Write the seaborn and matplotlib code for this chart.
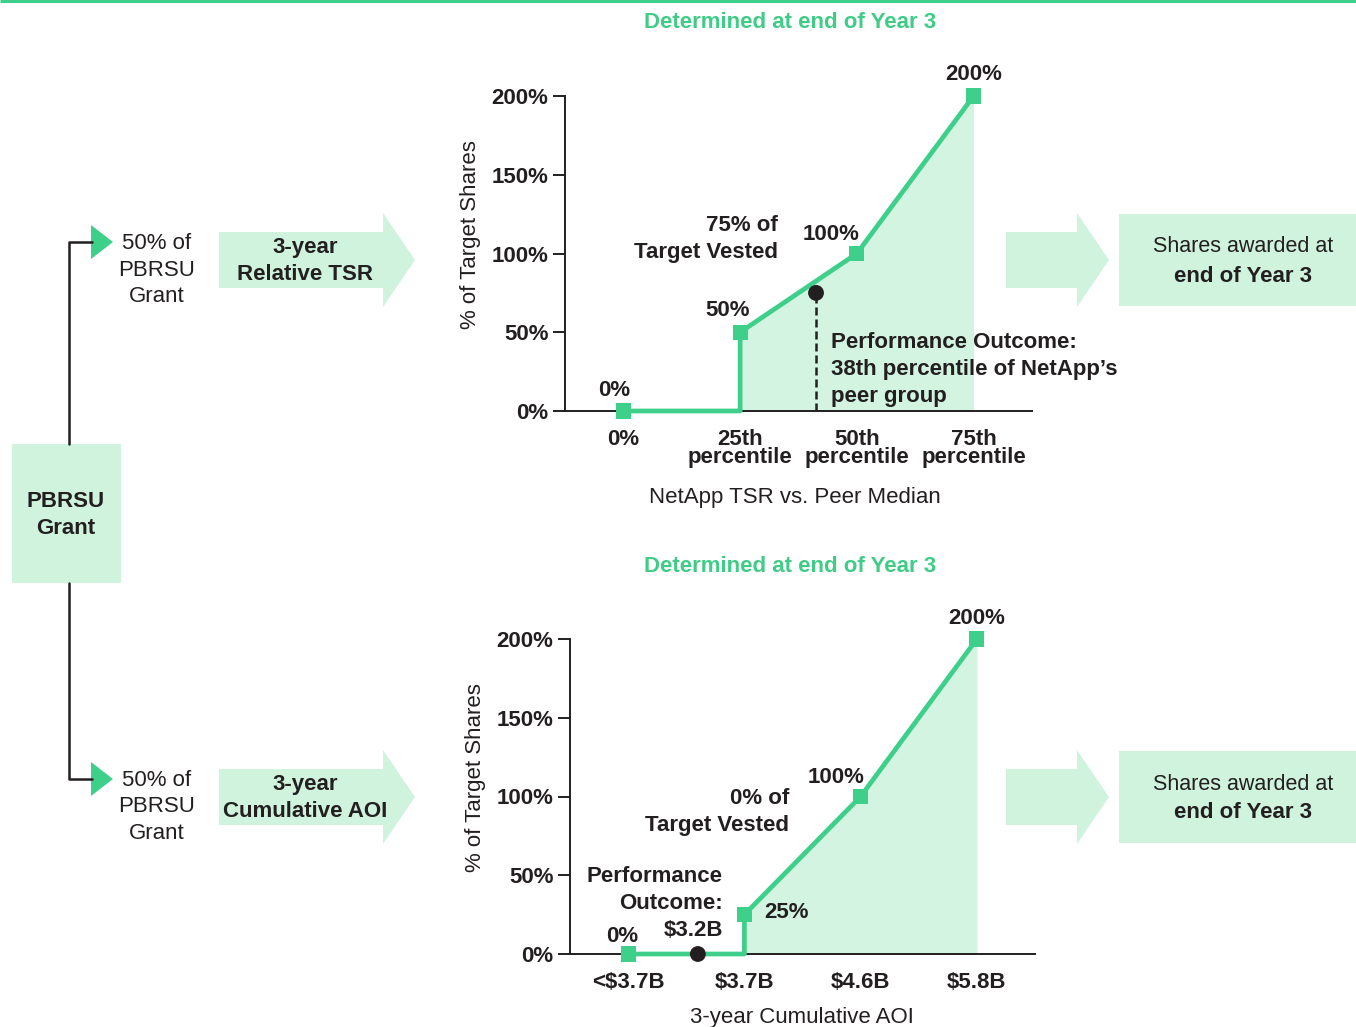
import numpy as np
import pandas as pd
import matplotlib
matplotlib.use("Agg")
import matplotlib.pyplot as plt
from matplotlib.patches import Polygon, Rectangle
import seaborn as sns

# ---- data -------------------------------------------------------------
tsr_labels = ["0%", "25th\npercentile", "50th\npercentile", "75th\npercentile"]
tsr_payout = [0, 50, 100, 200]          # % of target shares at each threshold
tsr_outcome_pos = 1.65                  # 38th percentile on the category axis
tsr_outcome_val = 75                    # % of target vested

aoi_labels = ["<$3.7B", "$3.7B", "$4.6B", "$5.8B"]
aoi_payout = [0, 25, 100, 200]
aoi_outcome_pos = 0.6                   # $3.2B, below threshold
aoi_outcome_val = 0

# ---- style ------------------------------------------------------------
sns.set_theme(style="white")
plt.rcParams["font.family"] = ["Liberation Sans", "DejaVu Sans"]

GREEN = "#3ecf8a"
LIGHT = "#d2f4e0"
BOX = "#cff3dd"
TITLE_GREEN = "#40cc86"
INK = "#231f20"
FS = 16
LS = 1.36

W, H = 1356, 1027
fig = plt.figure(figsize=(W / 100, H / 100), dpi=100)
fig.patch.set_facecolor("white")

# full-figure canvas in pixel units for the flow diagram
bg = fig.add_axes([0, 0, 1, 1])
bg.set_xlim(0, W)
bg.set_ylim(H, 0)
bg.axis("off")

# thin rule along the top edge
bg.plot([0, W], [1, 1], color=GREEN, lw=2.2, solid_capstyle="butt")


def arrow(x0, x1, tip, yc, half_body, half_head):
    pts = [(x0, yc - half_body), (x1, yc - half_body), (x1, yc - half_head),
           (tip, yc), (x1, yc + half_head), (x1, yc + half_body), (x0, yc + half_body)]
    bg.add_patch(Polygon(pts, closed=True, facecolor=BOX, edgecolor="none"))


# PBRSU grant box and connectors
bg.add_patch(Rectangle((12, 444), 109, 139, facecolor=BOX, edgecolor="none"))
bg.text(66, 515, "PBRSU\nGrant", ha="center", va="center", fontsize=FS,
        fontweight="bold", color=INK, linespacing=1.42)
bg.plot([92, 69, 69], [242, 242, 444], color=INK, lw=1.8)
bg.plot([92, 69, 69], [779, 779, 583], color=INK, lw=1.8)
for yc, lab in [(260, "3-year\nRelative TSR"), (797, "3-year\nCumulative AOI")]:
    yt = yc - 18
    bg.add_patch(Polygon([(91, yt - 17), (113, yt), (91, yt + 17)], closed=True,
                         facecolor=GREEN, edgecolor="none"))
    bg.text(157, yt + 28, "50% of\nPBRSU\nGrant", ha="center", va="center",
            fontsize=FS, color=INK, linespacing=LS)
    arrow(219, 383, 415, yc, 28, 47)
    bg.text(305, yc + 1, lab, ha="center", va="center", fontsize=FS,
            fontweight="bold", color=INK, linespacing=LS)
    arrow(1006, 1077, 1109, yc, 28, 47)
    bg.add_patch(Rectangle((1119, yc - 46), 240, 92, facecolor=BOX, edgecolor="none"))
    bg.text(1243, yc - 13, "Shares awarded at", ha="center", va="center",
            fontsize=FS - 0.5, color=INK)
    bg.text(1243, yc + 16, "end of Year 3", ha="center", va="center",
            fontsize=FS, fontweight="bold", color=INK)

for y in (22, 566):
    bg.text(790, y, "Determined at end of Year 3", ha="center", va="center",
            fontsize=FS, fontweight="bold", color=TITLE_GREEN)


def px(v):
    return v * 0.72


def payout_chart(rect, labels, payout, xlabel, ylab_xy, xlab_xy):
    ax = fig.add_axes(rect)
    ax.patch.set_alpha(0)
    pos = [0, 1, 1, 2, 3]
    val = [payout[0], payout[0], payout[1], payout[2], payout[3]]
    path = pd.DataFrame({"pos": pos, "val": val})
    ax.fill_between(pos[1:], 0, val[1:], color=LIGHT, lw=0, zorder=1)
    sns.lineplot(data=path, x="pos", y="val", sort=False, estimator=None,
                 color=GREEN, lw=3.4, ax=ax, zorder=3, clip_on=False)
    pts = pd.DataFrame({"pos": np.arange(len(payout)), "val": payout})
    sns.scatterplot(data=pts, x="pos", y="val", marker="s", s=120, color=GREEN,
                    edgecolor="none", ax=ax, zorder=4, clip_on=False)

    ax.set_xlim(-0.5, 3.5)
    ax.set_ylim(0, 200)
    for side in ("top", "right"):
        ax.spines[side].set_visible(False)
    for side in ("left", "bottom"):
        ax.spines[side].set_color(INK)
        ax.spines[side].set_linewidth(1.4)
        ax.spines[side].set_zorder(2)
    ax.set_yticks([0, 50, 100, 150, 200])
    ax.set_yticklabels([f"{v}%" for v in [0, 50, 100, 150, 200]],
                       fontsize=FS, fontweight="bold", color=INK)
    ax.set_xticks(range(len(labels)))
    ax.set_xticklabels(labels, fontsize=FS, fontweight="bold", color=INK,
                       linespacing=0.84)
    ax.tick_params(axis="y", left=True, length=9, width=1.4, color=INK, pad=3)
    ax.tick_params(axis="x", bottom=False, length=0, pad=13)
    ax.set_xlabel(xlabel, fontsize=FS, color=INK)
    ax.set_ylabel("% of Target Shares", fontsize=FS, color=INK)
    ax.xaxis.set_label_coords(*xlab_xy)
    ax.yaxis.set_label_coords(*ylab_xy)
    ax.grid(False)
    return ax


def value_label(ax, x, v, dx, dy, ha="center"):
    ax.annotate(f"{v}%", (x, v), xytext=(px(dx), px(dy)), textcoords="offset points",
                ha=ha, va="center", fontsize=FS, fontweight="bold", color=INK,
                annotation_clip=False)


def note(ax, anchor, lines, dx, dy_top, ha, step=27):
    # stacked note lines, one text per line, offsets given in pixels
    for k, line in enumerate(lines):
        ax.annotate(line, anchor, xytext=(px(dx), px(dy_top - k * step)),
                    textcoords="offset points", ha=ha, va="center", fontsize=FS,
                    fontweight="bold", color=INK, annotation_clip=False)


# ---- relative TSR chart ----------------------------------------------
ax1 = payout_chart([565 / W, 1 - 411 / H, 467 / W, 315 / H], tsr_labels, tsr_payout,
                   "NetApp TSR vs. Peer Median", (-0.18, 0.56), (0.4925, -0.24))
for i, (dx, dy) in enumerate([(-9, 21), (-13, 22), (-26, 19), (0, 22)]):
    value_label(ax1, i, tsr_payout[i], dx, dy)
ax1.plot([tsr_outcome_pos, tsr_outcome_pos], [0, tsr_outcome_val], color=INK,
         lw=1.8, ls=(0, (3.2, 1.6)), zorder=5)
sns.scatterplot(x=[tsr_outcome_pos], y=[tsr_outcome_val], color=INK, s=130,
                edgecolor="none", ax=ax1, zorder=6)
tsr_dot = (tsr_outcome_pos, tsr_outcome_val)
note(ax1, tsr_dot, [f"{tsr_outcome_val}% of", "Target Vested"], -38, 67, "right")
note(ax1, tsr_dot, ["Performance Outcome:", "38th percentile of NetApp\u2019s",
                    "peer group"], 15, -50, "left")

# ---- cumulative AOI chart --------------------------------------------
ax2 = payout_chart([570 / W, 1 - 954 / H, 465 / W, 315 / H], aoi_labels, aoi_payout,
                   "3-year Cumulative AOI", (-0.18, 0.56), (0.499, -0.168))
for i, (dx, dy, ha) in enumerate([(-6, 18, "center"), (20, 2, "left"),
                                  (-25, 19, "center"), (0, 21, "center")]):
    value_label(ax2, i, aoi_payout[i], dx, dy, ha=ha)
sns.scatterplot(x=[aoi_outcome_pos], y=[aoi_outcome_val], color=INK, s=130,
                edgecolor="none", ax=ax2, zorder=6, clip_on=False)
aoi_dot = (aoi_outcome_pos, aoi_outcome_val)
note(ax2, aoi_dot, [f"{aoi_outcome_val}% of", "Target Vested"], 91, 155, "right")
note(ax2, aoi_dot, ["Performance", "Outcome:", "$3.2B"], 25, 77, "right", step=26.5)

fig.savefig("out.png", dpi=100, facecolor="white")
